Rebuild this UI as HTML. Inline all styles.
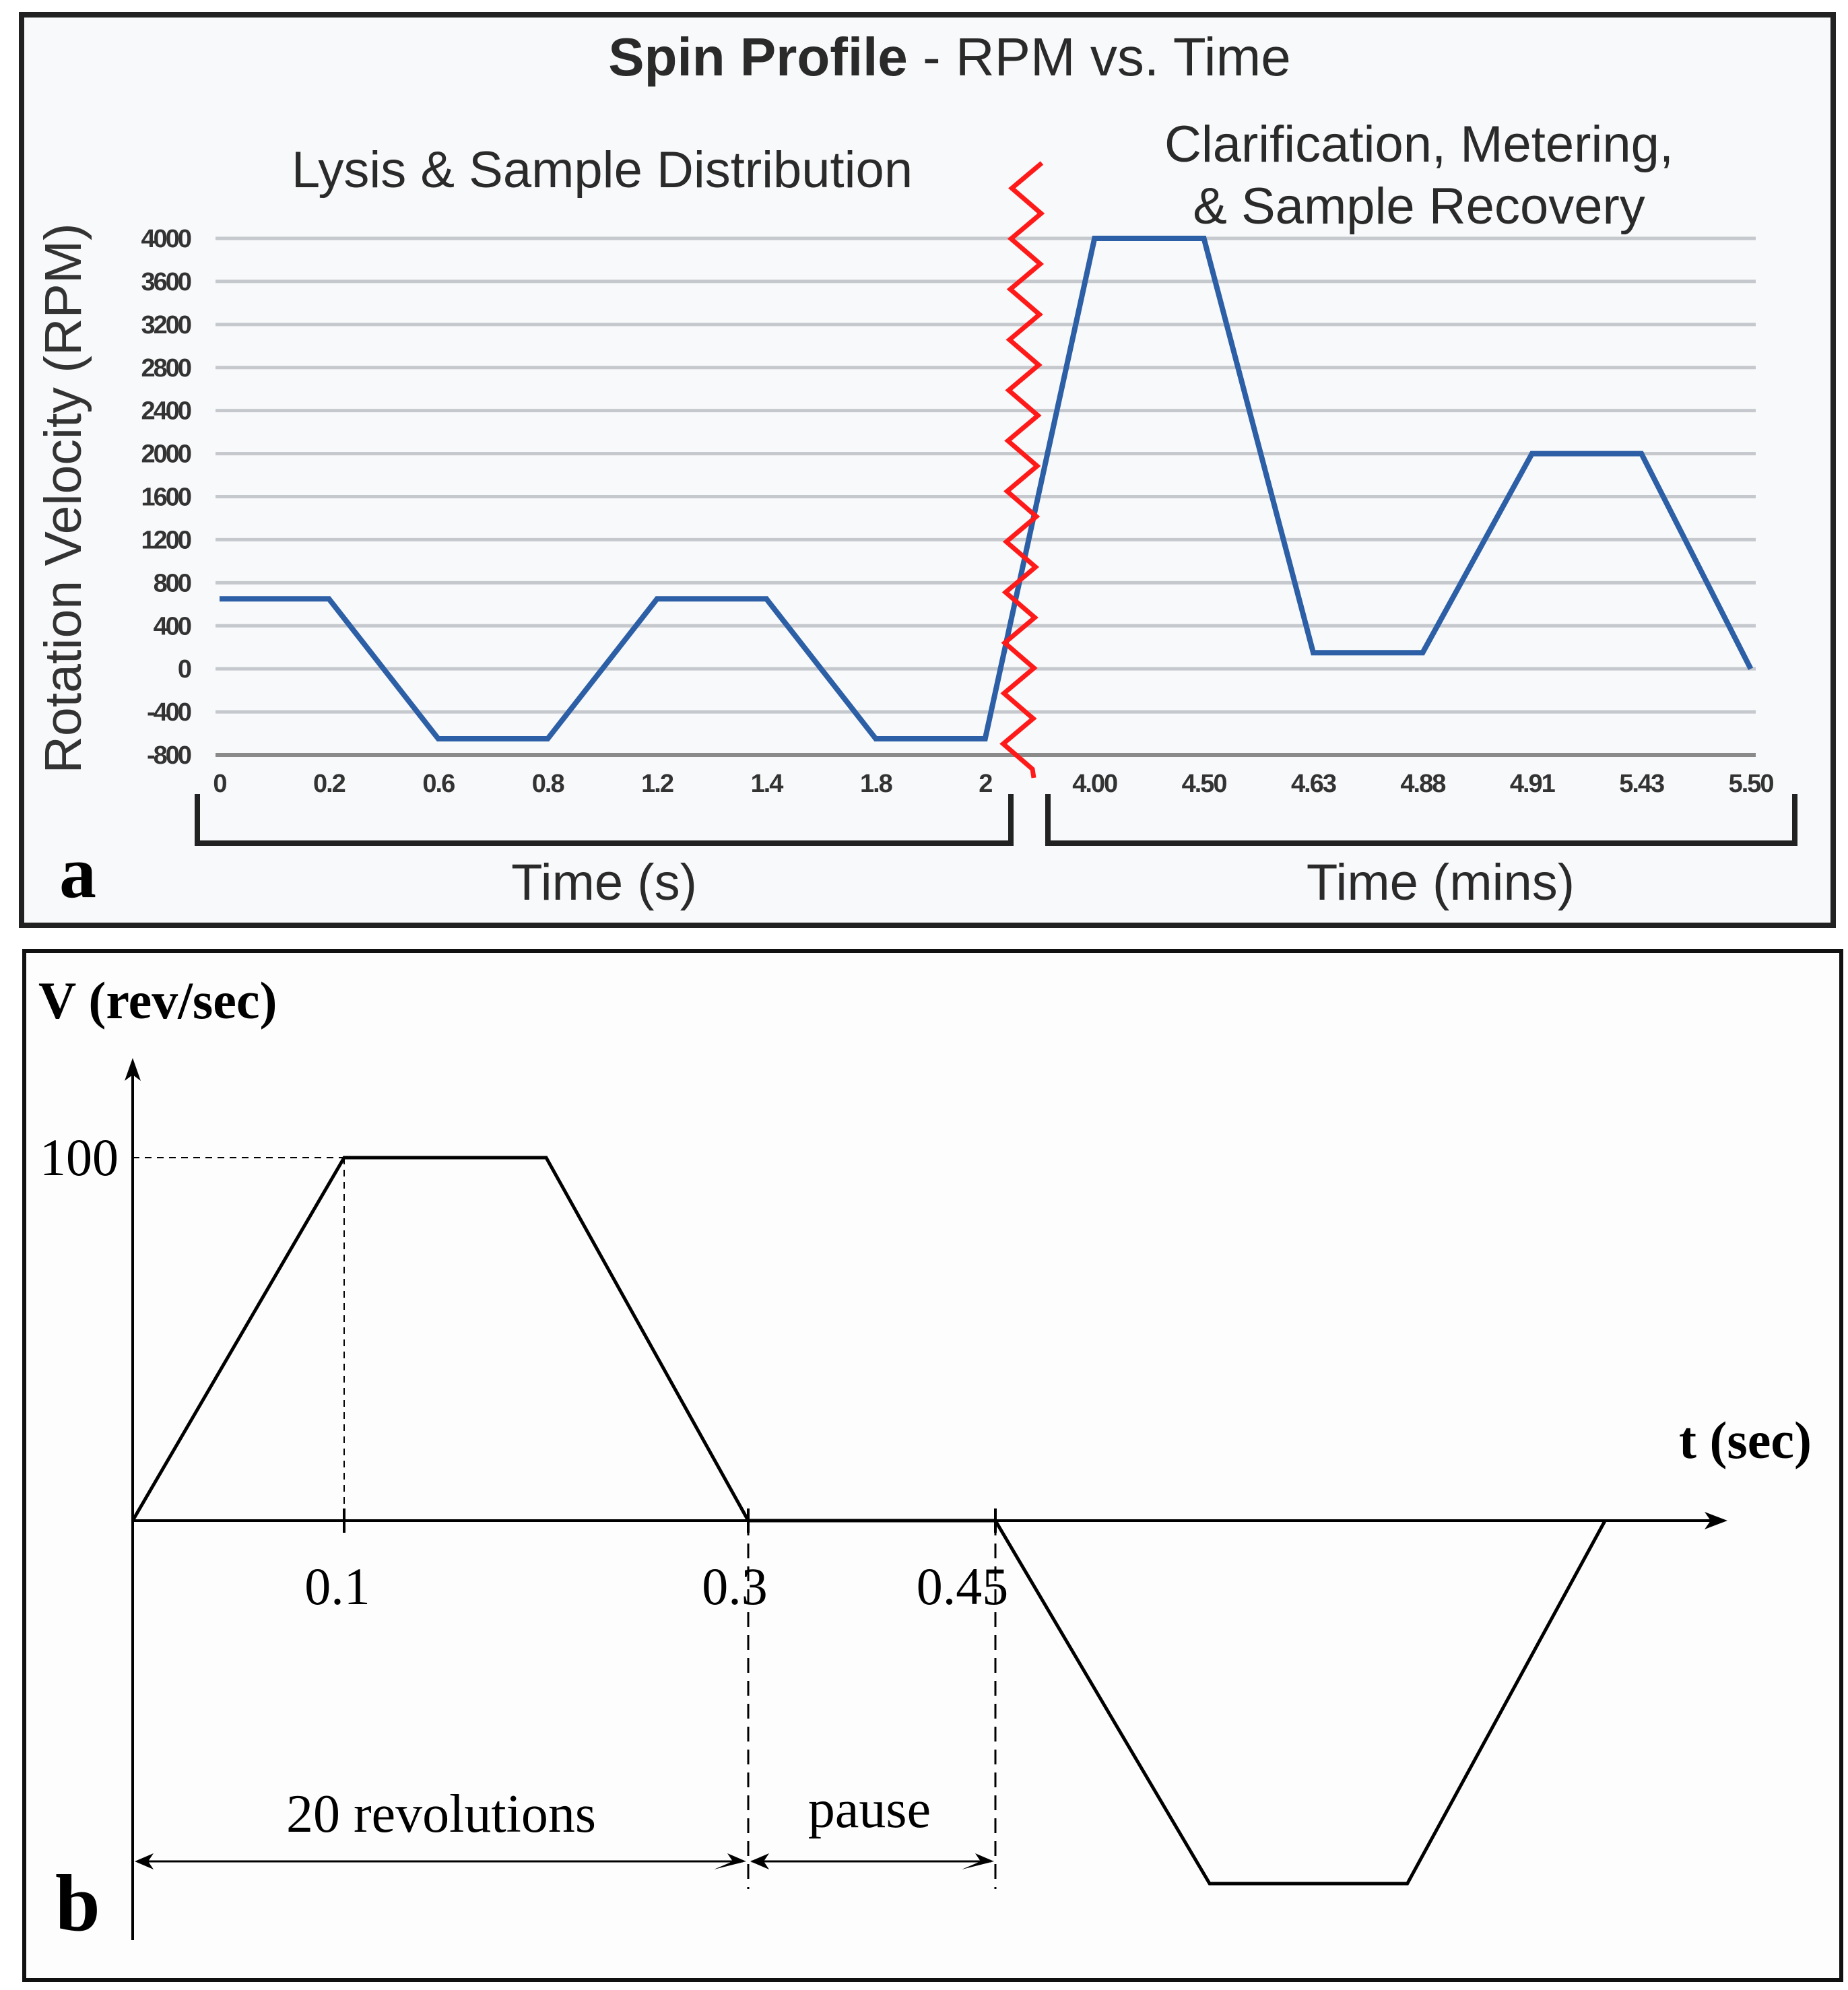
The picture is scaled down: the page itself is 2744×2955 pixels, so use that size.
<!DOCTYPE html>
<html><head><meta charset="utf-8"><style>
html,body{margin:0;padding:0;background:#fff;}
svg{display:block;}
</style></head><body>
<svg id="fig" width="2744" height="2955" viewBox="0 0 2744 2955" xmlns="http://www.w3.org/2000/svg">
<rect x="0" y="0" width="2744" height="2955" fill="#ffffff"/>
<g id="panelA">
<rect x="32" y="22" width="2690" height="1352" fill="#f8f9fa" stroke="#222" stroke-width="8"/>
<text x="1410" y="112" text-anchor="middle" font-family="Liberation Sans, sans-serif" font-size="80" fill="#2a2a2a"><tspan font-weight="bold">Spin Profile</tspan> - RPM vs. Time</text>
<text x="894" y="278" text-anchor="middle" font-family="Liberation Sans, sans-serif" font-size="76" fill="#2a2a2a">Lysis &amp; Sample Distribution</text>
<text x="2107" y="240" text-anchor="middle" font-family="Liberation Sans, sans-serif" font-size="76" fill="#2a2a2a">Clarification, Metering,</text>
<text x="2107" y="332" text-anchor="middle" font-family="Liberation Sans, sans-serif" font-size="76" fill="#2a2a2a">&amp; Sample Recovery</text>
<text transform="translate(120,740) rotate(-90)" text-anchor="middle" font-family="Liberation Sans, sans-serif" font-size="77" fill="#333">Rotation Velocity (RPM)</text>
<g id="gridA"></g>
<g id="yTicksA"></g>
<g id="xTicksA"></g>
<polyline id="lineA" fill="none" stroke="#2c5fa6" stroke-width="8" stroke-linejoin="miter"/>
<polyline id="zigzag" fill="none" stroke="#ff1a1a" stroke-width="7"/>
<path d="M293,1179 V1252 H1501 V1179" fill="none" stroke="#222" stroke-width="8"/>
<path d="M1556,1179 V1252 H2665 V1179" fill="none" stroke="#222" stroke-width="8"/>
<text x="897" y="1336" text-anchor="middle" font-family="Liberation Sans, sans-serif" font-size="76" fill="#2a2a2a">Time (s)</text>
<text x="2139" y="1336" text-anchor="middle" font-family="Liberation Sans, sans-serif" font-size="76" fill="#2a2a2a">Time (mins)</text>
<text x="88" y="1332" font-family="Liberation Serif, serif" font-weight="bold" font-size="110" fill="#000">a</text>
</g>
<g id="panelB">
<rect x="36" y="1412" width="2698" height="1528" fill="#fdfdfd" stroke="#111" stroke-width="6"/>
<text x="57" y="1512" font-family="Liberation Serif, serif" font-weight="bold" font-size="78" fill="#000">V (rev/sec)</text>
<text x="2690" y="2165" text-anchor="end" font-family="Liberation Serif, serif" font-weight="bold" font-size="78" fill="#000">t (sec)</text>
<line x1="197" y1="2881" x2="197" y2="1585" stroke="#000" stroke-width="4"/>
<path d="M197,1571 L185,1605 L197,1596 L209,1605 Z" fill="#000"/>
<line x1="197" y1="2258" x2="2550" y2="2258" stroke="#000" stroke-width="4"/>
<path d="M2565,2258 L2531,2245 L2540,2258 L2531,2271 Z" fill="#000"/>
<g id="bGuides"></g>
<polyline id="lineB" fill="none" stroke="#000" stroke-width="5"/>
<g id="bTicks"></g>
<text x="176" y="1745" text-anchor="end" font-family="Liberation Serif, serif" font-size="78" fill="#000">100</text>
<g>
<line x1="205" y1="2764" x2="1103" y2="2764" stroke="#000" stroke-width="3"/>
<path d="M200,2764 l28,-12 l-8,12 l8,12 Z M1108,2764 l-28,-12 l8,12 l-28,12 Z" fill="#000"/>
<line x1="1116" y1="2764" x2="1472" y2="2764" stroke="#000" stroke-width="3"/>
<path d="M1114,2764 l28,-12 l-8,12 l8,12 Z M1476,2764 l-28,-12 l8,12 l-28,12 Z" fill="#000"/>
<text x="655" y="2720" text-anchor="middle" font-family="Liberation Serif, serif" font-size="80" fill="#000">20 revolutions</text>
<text x="1291" y="2713" text-anchor="middle" font-family="Liberation Serif, serif" font-size="80" fill="#000">pause</text>
</g>
<text x="82" y="2866" font-family="Liberation Serif, serif" font-weight="bold" font-size="120" fill="#000">b</text>
</g>
</svg>
<script>
// ---- Panel a data ----
const yTicksA = [4000,3600,3200,2800,2400,2000,1600,1200,800,400,0,-400,-800];
const xCategoriesA = ["0","0.2","0.6","0.8","1.2","1.4","1.8","2","4.00","4.50","4.63","4.88","4.91","5.43","5.50"];
const rpmValues = [650,650,-650,-650,650,650,-650,-650,4000,4000,150,150,2000,2000,0];
// ---- Panel b data ----
const bTimes = [0,0.1,0.2,0.3,0.45,0.58,0.70,0.82];
const bVel = [0,100,100,0,0,-100,-100,0];
const bTickValues = [0.1,0.3,0.45];
const bTickLabels = ["0.1","0.3","0.45"];

const NS="http://www.w3.org/2000/svg";
function mk(tag,attrs,parent){const e=document.createElementNS(NS,tag);for(const k in attrs)e.setAttribute(k,attrs[k]);parent.appendChild(e);return e;}

const yA = v => 1121 - (v + 800) * (1121 - 354) / 4800;
const xA = i => 326 + i * 162.4;

const grid=document.getElementById('gridA');
const yt=document.getElementById('yTicksA');
yTicksA.forEach(v=>{
  const l=mk('line',{x1:320,x2:2607,y1:yA(v),y2:yA(v),stroke:v===-800?'#8a8a8a':'#c5c8cc','stroke-width':v===-800?6:5},grid);
  
  
  const t=mk('text',{x:282,y:yA(v)+13,'text-anchor':'end','font-family':'Liberation Sans, sans-serif','font-size':38,'font-weight':'bold','fill':'#333','letter-spacing':'-3'},yt);
  t.textContent=String(v);
  
  
});
const xt=document.getElementById('xTicksA');
xCategoriesA.forEach((c,i)=>{
  const t=mk('text',{x:xA(i),y:1176,'text-anchor':'middle','font-family':'Liberation Sans, sans-serif','font-size':38,'font-weight':'bold','fill':'#333','letter-spacing':'-2'},xt);
  t.textContent=c;
  
  
});
document.getElementById('lineA').setAttribute('points',rpmValues.map((v,i)=>xA(i)+','+yA(v)).join(' '));

const zz=[];let y=242;let k=0;
while(y<1150){const drift=(y-242)/900*14;zz.push(((k%2===0)?1547:1503)-drift+','+y);y+=37.5;k++;}
zz.push('1535,1155');
document.getElementById('zigzag').setAttribute('points',zz.join(' '));

const anchorsT=[0,0.1,0.3,0.45], anchorsX=[197,511,1111,1478];
function xB(t){
  for(let i=0;i<anchorsT.length-1;i++){
    if(t<=anchorsT[i+1]) return anchorsX[i]+(t-anchorsT[i])*(anchorsX[i+1]-anchorsX[i])/(anchorsT[i+1]-anchorsT[i]);
  }
  const n=anchorsT.length-1;
  return anchorsX[n]+(t-anchorsT[n])*(anchorsX[n]-anchorsX[n-1])/(anchorsT[n]-anchorsT[n-1]);
}
const yB = v => 2258 - v * 5.39;
document.getElementById('lineB').setAttribute('points',bTimes.map((t,i)=>xB(t)+','+yB(bVel[i])).join(' '));

const gd=document.getElementById('bGuides');
const h=mk('line',{x1:197,x2:xB(0.1),y1:yB(100),y2:yB(100),stroke:'#000','stroke-width':2,'stroke-dasharray':'10,8'},gd);


const v1=mk('line',{x1:xB(0.1),x2:xB(0.1),y1:yB(100),y2:2258,stroke:'#000','stroke-width':2,'stroke-dasharray':'10,8'},gd);


[0.3,0.45].forEach(t=>{
  const l=mk('line',{x1:xB(t),x2:xB(t),y1:2258,y2:2805,stroke:'#000','stroke-width':3,'stroke-dasharray':'22,12'},gd);
  
  
});
const bt=document.getElementById('bTicks');
bTickValues.forEach((t,i)=>{
  const tk=mk('line',{x1:xB(t),x2:xB(t),y1:2240,y2:2276,stroke:'#000','stroke-width':4},bt);
  
  
  const tx=mk('text',{x:xB(t)-(i===0?10:(i===1?20:49)),y:2382,'text-anchor':'middle','font-family':'Liberation Serif, serif','font-size':78,fill:'#000'},bt);
  tx.textContent=bTickLabels[i];
  
  
});
</script>
</body></html>
